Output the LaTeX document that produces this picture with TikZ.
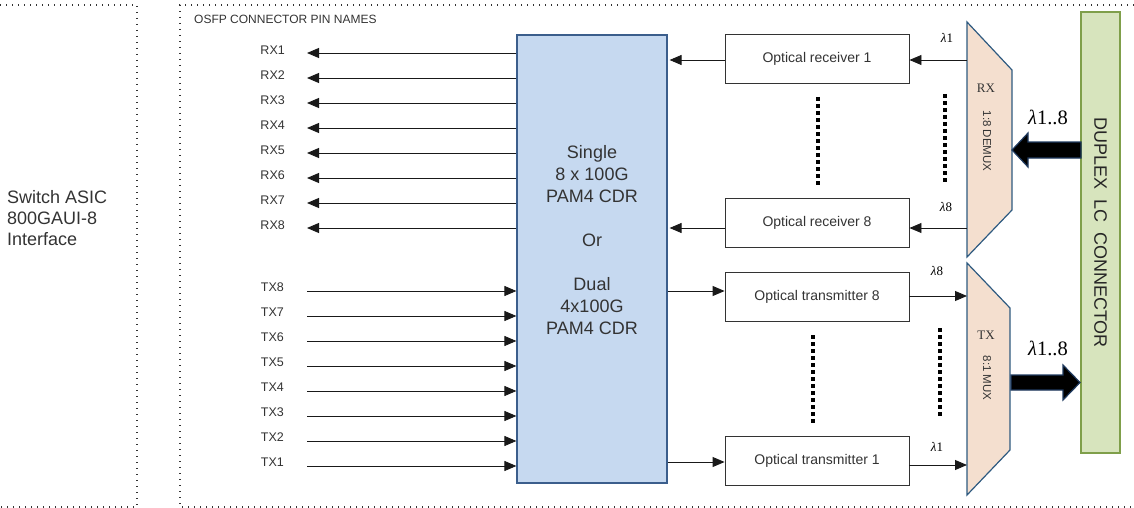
\documentclass[tikz,border=0pt]{standalone}
\usepackage{fontspec}
\setmainfont{Liberation Sans}
\newfontfamily\muxserif{Liberation Serif}
\usetikzlibrary{arrows.meta}
\newcommand\lamtxt[1]{{\muxserif\itshape λ}{\muxserif #1}}
\definecolor{cdrfill}{HTML}{C6D9F0}
\definecolor{cdrline}{HTML}{3B5E8C}
\definecolor{muxfill}{HTML}{F4DFCF}
\definecolor{muxline}{HTML}{2E5A80}
\definecolor{connfill}{HTML}{D7E4BD}
\definecolor{connline}{HTML}{7F9F4A}
\definecolor{txtgray}{HTML}{333333}
\definecolor{bigline}{HTML}{1F3A5F}
\tikzset{
  dotbox/.style={line width=1.3pt, dash pattern=on 1.3pt off 4.7pt, black!80},
  pinlbl/.style={inner sep=0pt, font=\fontsize{12.5}{14}\selectfont, text=txtgray},
  arr/.style={line width=0.9pt, black!90, -{Triangle[length=12pt,width=10pt]}},
  obox/.style={draw=black!80, line width=0.9pt, fill=white, minimum width=184, minimum height=49, inner sep=0pt, font=\fontsize{14}{16}\selectfont, text=txtgray},
  lam/.style={inner sep=0pt, font=\fontsize{13}{14}\selectfont},
  biglam/.style={inner sep=0pt, font=\fontsize{20.5}{22}\selectfont},
  thickdots/.style={line width=3.8pt, dash pattern=on 4pt off 3pt, black},
  mux/.style={draw=muxline, line width=1.2pt, fill=muxfill},
  muxlbl/.style={inner sep=0pt, font=\muxserif\fontsize{13}{14}\selectfont, text=txtgray},
  muxsub/.style={inner sep=0pt, rotate=-90, font=\fontsize{11.5}{13}\selectfont, text=txtgray},
  bigarrow/.style={draw=bigline, line width=1.2pt, fill=black},
}
\begin{document}
\begin{tikzpicture}[x=1pt,y=-1pt]
\useasboundingbox (0,0) rectangle (1134,508);

% dotted frames
\draw[dotbox] (0,5) -- (137,5) -- (137,507) -- (0,507);
\draw[dotbox] (1134,5) -- (180,5) -- (180,507) -- (1134,507);

\node[anchor=west, align=left, inner sep=0pt, font=\fontsize{18}{21}\selectfont, text=txtgray] (asic) at (7,218) {Switch ASIC\\800GAUI-8\\Interface};
\node[anchor=west, inner sep=0pt, font=\fontsize{12}{14}\selectfont, text=txtgray] (osfp) at (194,19) {OSFP CONNECTOR PIN NAMES};

% CDR
\node[draw=cdrline, line width=1.2pt, fill=cdrfill, minimum width=150, minimum height=448, inner sep=0pt] (cdr) at (592,259) {};
\node[align=center, inner sep=0pt, font=\fontsize{18}{22}\selectfont, text=txtgray] (cdrtxt) at (592,240)
  {Single\\8 x 100G\\PAM4 CDR\\[22pt]Or\\[22pt]Dual\\4x100G\\PAM4 CDR};

% RX pins
\foreach \i/\y in {1/53,2/78,3/103,4/128,5/153,6/178,7/203,8/228}{
  \node[pinlbl, anchor=east] (rx\i) at (285,\y-3) {RX\i};
  \coordinate (rxe\i) at (307,\y);
  \draw[arr] (cdr.west |- rxe\i) -- (rxe\i);
}
% TX pins
\foreach \i/\y in {8/291,7/316,6/341,5/366,4/391,3/416,2/441,1/466}{
  \node[pinlbl, anchor=east] (tx\i) at (284,\y-4) {TX\i};
  \coordinate (txs\i) at (307,\y);
  \draw[arr] (txs\i) -- (cdr.west |- txs\i);
}

% optical boxes
\node[obox] (r1) at (817,58.5) {Optical receiver 1};
\node[obox] (r8) at (817,223) {Optical receiver 8};
\node[obox] (t8) at (817,296.5) {Optical transmitter 8};
\node[obox] (t1) at (817,460.5) {Optical transmitter 1};

% DEMUX and MUX shapes
\coordinate (d1) at (967,22); \coordinate (d2) at (1012,70);
\coordinate (d3) at (1012,210); \coordinate (d4) at (967,257);
\draw[mux] (d1) -- (d2) -- (d3) -- (d4) -- cycle;
\coordinate (m1) at (967,263); \coordinate (m2) at (1010,308);
\coordinate (m3) at (1010,450); \coordinate (m4) at (967,495);
\draw[mux] (m1) -- (m2) -- (m3) -- (m4) -- cycle;
\node[muxlbl] (rxl) at (986,88) {RX};
\node[muxsub] (demuxl) at (987,141) {1:8 DEMUX};
\node[muxlbl] (txl) at (986,335) {TX};
\node[muxsub] (muxl) at (987,378) {8:1 MUX};

% receiver path arrows
\coordinate (ra1) at (0,60); \coordinate (ra8) at (0,228);
\draw[arr] (d1 |- ra1) -- (r1.east |- ra1);
\draw[arr] (r1.west |- ra1) -- ([xshift=2pt]cdr.east |- ra1);
\draw[arr] (d1 |- ra8) -- (r8.east |- ra8);
\draw[arr] (r8.west |- ra8) -- ([xshift=2pt]cdr.east |- ra8);
% transmitter path arrows
\coordinate (tl8) at (0,291); \coordinate (tr8) at (0,296);
\coordinate (tl1) at (0,462); \coordinate (tr1) at (0,465);
\draw[arr] (cdr.east |- tl8) -- (t8.west |- tl8);
\draw[arr] (t8.east |- tr8) -- (m1 |- tr8);
\draw[arr] (cdr.east |- tl1) -- (t1.west |- tl1);
\draw[arr] (t1.east |- tr1) -- (m1 |- tr1);

% lambda labels
\node[lam] (lr1) at (947,38) {\lamtxt{1}};
\node[lam] (lr8) at (946,207) {\lamtxt{8}};
\node[lam] (lt8) at (937,271) {\lamtxt{8}};
\node[lam] (lt1) at (937,447) {\lamtxt{1}};
\node[biglam] (lrx) at (1048,117) {\lamtxt{1..8}};
\node[biglam] (ltx) at (1048,348) {\lamtxt{1..8}};

% thick dotted ellipsis lines
\draw[thickdots] (818,97) -- (818,185);
\draw[thickdots] (945,94) -- (945,182);
\draw[thickdots] (813,335) -- (813,423);
\draw[thickdots] (940,328) -- (940,417);

% connector
\node[draw=connline, line width=1.2pt, fill=connfill, rotate=-90, minimum width=441, minimum height=39, inner sep=0pt, font=\fontsize{18}{20}\selectfont, text=black!85] (conn) at (1100.5,232.5) {DUPLEX\ \ LC\ \ CONNECTOR};

% thick arrows
\draw[bigarrow] (1081,142) -- (1028,142) -- (1028,133) -- (1012,150) -- (1028,167) -- (1028,158) -- (1081,158) -- cycle;
\draw[bigarrow] (1011,375) -- (1063,375) -- (1063,365) -- (1080,382.5) -- (1063,400) -- (1063,390) -- (1011,390) -- cycle;
\end{tikzpicture}
\end{document}
